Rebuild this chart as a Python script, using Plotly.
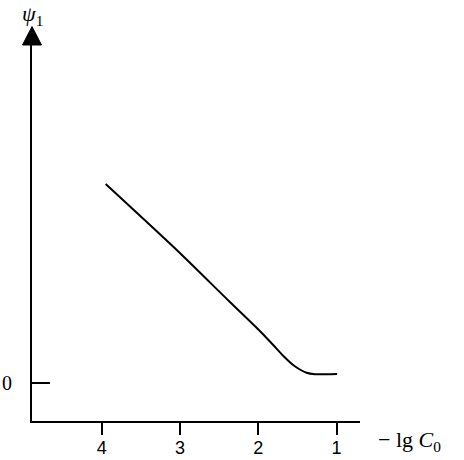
import plotly.graph_objects as go

# -lg C0 (x) and psi_1 (arbitrary units, y)
neg_lg_c0 = [3.949, 3.064, 2.362, 1.979, 1.809, 1.685, 1.554, 1.468, 1.383, 1.277, 1.213, 0.992]
psi_1 = [1.993, 1.350, 0.813, 0.523, 0.383, 0.278, 0.183, 0.138, 0.106, 0.091, 0.090, 0.093]

x_ticks = [4, 3, 2, 1]
x_labels = ["4", "3", "2", "1"]

fig = go.Figure()
fig.add_trace(go.Scatter(x=neg_lg_c0, y=psi_1, mode="lines",
                         line=dict(color="black", width=2, shape="spline", smoothing=0.6),
                         showlegend=False, hoverinfo="skip"))

x_range = [4.89, 0.70]
fig.update_layout(
    width=464, height=460,
    margin=dict(l=32, r=104, t=45, b=39, autoexpand=False),
    paper_bgcolor="white", plot_bgcolor="white",
    xaxis=dict(range=x_range, showline=True, linecolor="black", linewidth=2,
               showgrid=False, zeroline=False, automargin=False,
               tickvals=x_ticks, ticktext=x_labels,
               ticks="outside", ticklen=12, tickwidth=2, tickcolor="black",
               ticklabelstandoff=-3,
               tickfont=dict(family="Liberation Sans, Arial", size=18, color="black")),
    xaxis2=dict(range=x_range, overlaying="x", anchor="y", side="bottom",
                showline=False, showgrid=False, zeroline=False, automargin=False,
                tickvals=x_ticks, ticks="inside", ticklen=11, tickwidth=2,
                tickcolor="black", showticklabels=False),
    yaxis=dict(range=[-0.377, 3.383], showline=True, linecolor="black", linewidth=2,
               showgrid=False, zeroline=False, automargin=False,
               tickvals=[0], ticktext=["0"],
               ticks="inside", ticklen=18, tickwidth=2, tickcolor="black",
               ticklabelstandoff=14,
               tickfont=dict(family="Liberation Serif, Times New Roman", size=20, color="black")),
    shapes=[dict(type="path", xref="paper", yref="paper",
                 xsizemode="pixel", ysizemode="pixel", xanchor=0, yanchor=1,
                 path="M -9.5,0 L 9.5,0 L 0,18.5 Z",
                 fillcolor="black", line=dict(color="black", width=1))],
    annotations=[
        dict(text="<i>ψ</i><sub>1</sub>", xref="paper", yref="paper", x=0, y=1,
             xanchor="center", yanchor="bottom", xshift=0, yshift=14, showarrow=False,
             font=dict(family="Liberation Serif, Times New Roman", size=22, color="black")),
        dict(text="− lg <i>C</i><sub>0</sub>", xref="paper", yref="paper", x=1, y=0,
             xanchor="left", yanchor="top", xshift=16, yshift=-4, showarrow=False,
             font=dict(family="Liberation Serif, Times New Roman", size=22, color="black")),
    ],
)

# drop the default page margin so the figure sits at the window's corner
fig.write_html("out.html", config={"displayModeBar": False},
               post_script="document.body.style.margin='0';")
